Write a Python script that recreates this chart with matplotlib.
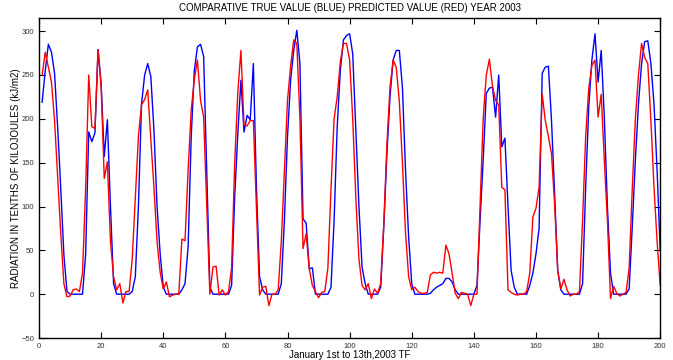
import numpy as np
import matplotlib.pyplot as plt

plt.rcParams['font.family'] = ['Liberation Sans', 'DejaVu Sans']

# hourly samples 1..200
x = np.arange(1, 201)

true_val = [
    219, 255, 285, 276, 252, 190, 120, 45, 3, 0, 0, 0, 0, 0, 45, 185,
    174, 184, 279, 240, 157, 199, 100, 12, 0, 0, 0, 0, 0, 3, 20, 100,
    217, 250, 263, 248, 187, 100, 46, 8, 0, 0, 0, 0, 0, 5, 12, 54,
    180, 255, 282, 285, 271, 141, 8, 0, 0, 0, 0, 0, 0, 10, 111, 183,
    244, 185, 204, 199, 263, 122, 20, 5, 0, 0, 0, 0, 0, 12, 84, 180,
    244, 278, 301, 263, 86, 81, 29, 30, 0, 0, 0, 0, 0, 8, 84, 191,
    255, 290, 295, 297, 274, 187, 100, 31, 12, 0, 0, 0, 0, 8, 77, 160,
    225, 267, 278, 278, 236, 141, 65, 12, 0, 0, 0, 0, 0, 1, 5, 8,
    10, 12, 18, 18, 14, 5, 0, 0, 0, 0, 0, 0, 10, 84, 153, 229,
    235, 236, 202, 250, 168, 178, 100, 27, 8, 0, 0, 0, 0, 10, 24, 46,
    75, 252, 259, 260, 198, 115, 27, 5, 0, 0, 0, 0, 0, 0, 12, 122,
    214, 267, 297, 242, 278, 202, 100, 24, 0, 0, 0, 0, 0, 6, 77, 153,
    217, 263, 288, 289, 263, 217, 141, 50,
]

predicted = [
    250, 276, 259, 242, 198, 134, 69, 12, -3, -2, 5, 6, 3, 24, 120, 250,
    191, 189, 279, 236, 132, 151, 60, 20, 5, 12, -10, 3, 3, 40, 110, 180,
    216, 222, 233, 176, 122, 60, 25, 6, 14, -3, -1, 0, 0, 63, 61, 141,
    210, 245, 267, 221, 202, 100, 0, 31, 32, -1, 5, -1, 3, 30, 150, 230,
    278, 193, 192, 198, 198, 100, -1, 8, 9, -13, 0, 0, 5, 60, 140, 221,
    260, 290, 286, 200, 52, 69, 29, 10, 3, -4, 2, 3, 30, 120, 200, 225,
    265, 286, 286, 267, 200, 110, 40, 10, 5, 12, -5, 6, 1, 12, 80, 170,
    236, 267, 259, 220, 150, 70, 20, 5, 8, 3, 1, 1, 2, 22, 25, 24,
    25, 24, 56, 46, 24, 1, -5, 2, 1, 0, -13, 0, 0, 100, 200, 250,
    268, 237, 221, 216, 122, 119, 5, 2, 0, -1, 0, 0, 3, 24, 88, 98,
    122, 228, 198, 180, 160, 103, 27, 6, 17, 5, -2, 0, 0, 3, 84, 180,
    235, 261, 267, 202, 228, 153, 84, -5, 9, 1, -2, 0, 2, 30, 120, 200,
    250, 286, 270, 263, 198, 122, 60, 10,
]

fig = plt.figure(figsize=(6.73, 3.6), dpi=100)
ax = fig.add_axes([0.058, 0.061, 0.923, 0.889])

ax.plot(x, true_val, color='blue', lw=1.0)
ax.plot(x, predicted, color='red', lw=1.0)

ax.set_xlim(0, 200)
ax.set_ylim(-50, 315)
ax.set_xticks(np.arange(0, 201, 20))
ax.set_yticks(np.arange(-50, 301, 50))
ax.tick_params(direction='in', top=True, right=True, labelsize=5.5, length=4,
               labelcolor='#333333')
for s in ax.spines.values():
    s.set_linewidth(1.0)

ax.set_title('COMPARATIVE TRUE VALUE (BLUE) PREDICTED VALUE (RED) YEAR 2003',
             fontsize=7, pad=5)
ax.set_xlabel('January 1st to 13th,2003 TF', fontsize=7, labelpad=0)
ax.set_ylabel('RADIATION IN TENTHS OF KILOJOULES (kJ/m2)', fontsize=7, labelpad=0)

fig.savefig('out.png', dpi=100)
